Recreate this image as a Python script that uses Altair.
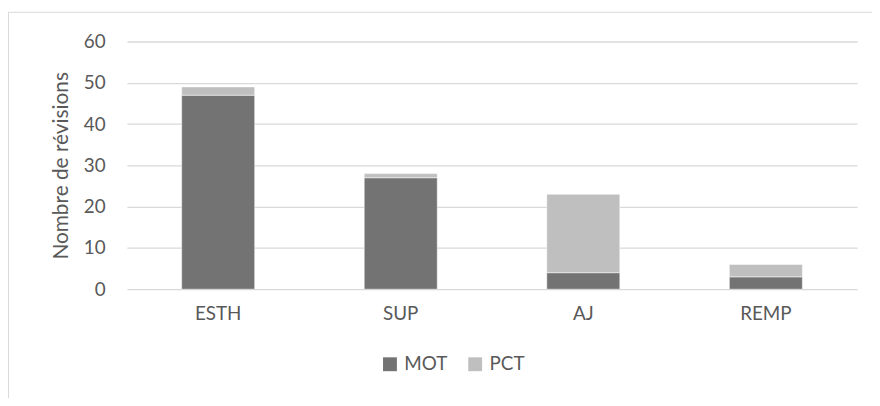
import altair as alt
import pandas as pd

categories = ["ESTH", "SUP", "AJ", "REMP"]
mot = [47, 27, 4, 3]
pct = [2, 1, 19, 3]
series = ["MOT", "PCT"]
colors = ["#737373", "#bfbfbf"]

rows = []
for c, m, p in zip(categories, mot, pct):
    rows.append({"cat": c, "serie": "MOT", "val": m, "ord": 0})
    rows.append({"cat": c, "serie": "PCT", "val": p, "ord": 1})
df = pd.DataFrame(rows)

FONT = "Lato"
TXT = "#595959"

frame = alt.Chart(pd.DataFrame({"a": [0]})).mark_rect(
    fill=None, stroke="#d9d9d9", strokeWidth=1, clip=False
).encode(
    x=alt.value(-119.5), x2=alt.value(770),
    y=alt.value(-29.5), y2=alt.value(400)
)

bars = alt.Chart(df).mark_bar(stroke="white", strokeWidth=0.5).encode(
    x=alt.X("cat:N", sort=categories,
            scale=alt.Scale(paddingInner=0.6, paddingOuter=0.3),
            axis=alt.Axis(title=None, labelAngle=0, labelFont=FONT, labelFontSize=19,
                          labelColor=TXT, ticks=False, domain=False, labelPadding=16)),
    y=alt.Y("val:Q", stack="zero",
            scale=alt.Scale(domain=[0, 60]),
            axis=alt.Axis(values=[0, 10, 20, 30, 40, 50, 60], title="Nombre de révisions",
                          titleFont=FONT, titleFontSize=21, titleFontWeight="normal",
                          titleColor=TXT, titlePadding=12,
                          labelFont=FONT, labelFontSize=19, labelColor=TXT,
                          ticks=False, domain=False, labelPadding=22,
                          gridColor="#d9d9d9", gridWidth=1.3)),
    color=alt.Color("serie:N", scale=alt.Scale(domain=series, range=colors),
                    legend=alt.Legend(title=None, orient="none", direction="horizontal",
                                      legendX=256, legendY=316,
                                      symbolType="square", symbolSize=196,
                                      symbolStrokeWidth=0, labelFont=FONT,
                                      labelFontSize=19, labelColor=TXT,
                                      columnPadding=18, labelOffset=5)),
    order=alt.Order("ord:Q"),
)

chart = alt.layer(frame, bars).properties(
    width=737, height=250,
    autosize=alt.AutoSizeParams(type="none"),
    padding={"left": 120, "top": 32, "right": 15, "bottom": 108},
).configure(background="white").configure_view(stroke=None)

chart.save("out.html", embed_options={"renderer": "svg", "actions": False})
